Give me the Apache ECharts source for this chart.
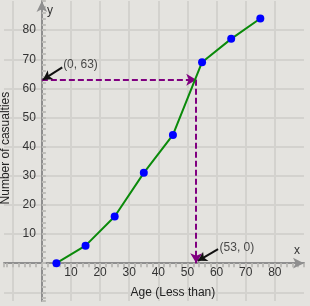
<!DOCTYPE html>
<html><head><meta charset="utf-8">
<script src="https://cdn.jsdelivr.net/npm/echarts@6/dist/echarts.min.js"></script>
<style>html,body{margin:0;padding:0;background:#e4e3df;}#c{width:310px;height:306px;}</style>
</head><body><div id="c"></div>
<script>
var ages = [5, 15, 25, 35, 45, 55, 65, 75];
var casualties = [0, 6, 16, 31, 44, 69, 77, 84];
var tickLabels = [10, 20, 30, 40, 50, 60, 70, 80];
var medianPoint = [53, 63];
var annotLabels = ['(0, 63)', '(53, 0)'];
var annotLabelPos = [[7.3, 68], [61, 5.2]];
var annotArrowTail = [[7, 67.2], [60.5, 4.8]];
var annotArrowTip = [[0.4, 63], [53.6, 0.8]];

var chart = echarts.init(document.getElementById('c'), null, {renderer: 'canvas'});
var fmt = function (v) { return tickLabels.indexOf(v) >= 0 ? String(v) : ''; };
var axisCol = '#8f8f8f';
var font = 'Liberation Sans';
var unit = 300 / 103;
var bigBounds = {left: -300, top: -300, right: -300, bottom: -300};
var option = {
  backgroundColor: '#e4e3df',
  animation: false,
  grid: [
    {left: 4, top: 1, width: 300, height: 300, containLabel: false, outerBounds: bigBounds},
    {left: 4 + 13 * unit, top: 1, width: 90 * unit, height: 90 * unit, containLabel: false, outerBounds: bigBounds}
  ],
  xAxis: [{
    gridIndex: 0, type: 'value', min: -13, max: 90, splitNumber: 10,
    axisLine: {show: true, onZero: true, lineStyle: {color: axisCol, width: 2}, symbol: ['none', 'arrow'], symbolSize: [8, 11]},
    axisTick: {show: true, length: 4, lineStyle: {color: '#bdbcb8', width: 2}},
    minorTick: {show: true, splitNumber: 5, length: 4, lineStyle: {color: '#bdbcb8', width: 2}},
    axisLabel: {show: false},
    splitLine: {show: true, showMinLine: false, showMaxLine: false, lineStyle: {color: '#d3d2ce', width: 2}}
  }, {
    gridIndex: 1, type: 'value', min: 0, max: 90, interval: 10,
    axisLine: {show: false}, axisTick: {show: false}, splitLine: {show: false},
    axisLabel: {formatter: fmt, color: '#333', fontSize: 12, fontFamily: font, margin: 4},
    name: 'Age (Less than)', nameLocation: 'middle', nameGap: 24,
    nameTextStyle: {color: '#222', fontSize: 12, fontFamily: font}
  }],
  yAxis: [{
    gridIndex: 0, type: 'value', min: -13, max: 90, splitNumber: 10,
    axisLine: {show: true, onZero: true, lineStyle: {color: axisCol, width: 2}, symbol: ['none', 'arrow'], symbolSize: [8, 11]},
    axisTick: {show: true, inside: true, length: 4, lineStyle: {color: '#bdbcb8', width: 2}},
    minorTick: {show: true, splitNumber: 5, length: 4, lineStyle: {color: '#bdbcb8', width: 2}},
    axisLabel: {show: false},
    splitLine: {show: true, showMinLine: false, showMaxLine: false, lineStyle: {color: '#d3d2ce', width: 2}}
  }, {
    gridIndex: 1, type: 'value', min: 0, max: 90, interval: 10,
    axisLine: {show: false}, axisTick: {show: false}, splitLine: {show: false},
    axisLabel: {formatter: fmt, color: '#333', fontSize: 12, fontFamily: font, margin: 6},
    name: 'Number of casualties', nameLocation: 'middle', nameGap: 15,
    nameTextStyle: {color: '#222', fontSize: 12, fontFamily: font, padding: [0, 32, 0, 0]}
  }],
  graphic: [
    {type: 'text', left: 47, top: 5, style: {text: 'y', fontSize: 12, fontFamily: font, fill: '#333'}},
    {type: 'text', left: 294, top: 245, style: {text: 'x', fontSize: 12, fontFamily: font, fill: '#333'}}
  ],
  series: [
    {
      type: 'line', z: 5, xAxisIndex: 0, yAxisIndex: 0,
      data: ages.map(function (a, i) { return [a, casualties[i]]; }),
      lineStyle: {color: '#0a8a0a', width: 2},
      symbol: 'circle', symbolSize: 8,
      itemStyle: {color: '#0000ff', borderWidth: 0},
      markLine: {
        silent: true, symbol: ['none', 'arrow'], symbolSize: [9, 10],
        lineStyle: {color: '#800080', width: 2, type: [6, 3]},
        label: {show: false},
        data: [
          [{coord: [0, medianPoint[1]]}, {coord: [medianPoint[0], medianPoint[1]]}],
          [{coord: [medianPoint[0], medianPoint[1]]}, {coord: [medianPoint[0], 0]}]
        ]
      }
    },
    {
      type: 'scatter', z: 6, xAxisIndex: 0, yAxisIndex: 0, symbolSize: 0,
      data: annotLabelPos.map(function (p, i) { return {value: p, name: annotLabels[i]}; }),
      label: {show: true, position: 'right', distance: 0, formatter: '{b}', color: '#222', fontSize: 12, fontFamily: font},
      markLine: {
        silent: true, symbol: ['none', 'arrow'], symbolSize: [8, 9],
        lineStyle: {color: '#111', width: 2, type: 'solid'},
        label: {show: false},
        data: annotArrowTail.map(function (t, i) { return [{coord: t}, {coord: annotArrowTip[i]}]; })
      }
    }
  ]
};
chart.setOption(option);
</script></body></html>
